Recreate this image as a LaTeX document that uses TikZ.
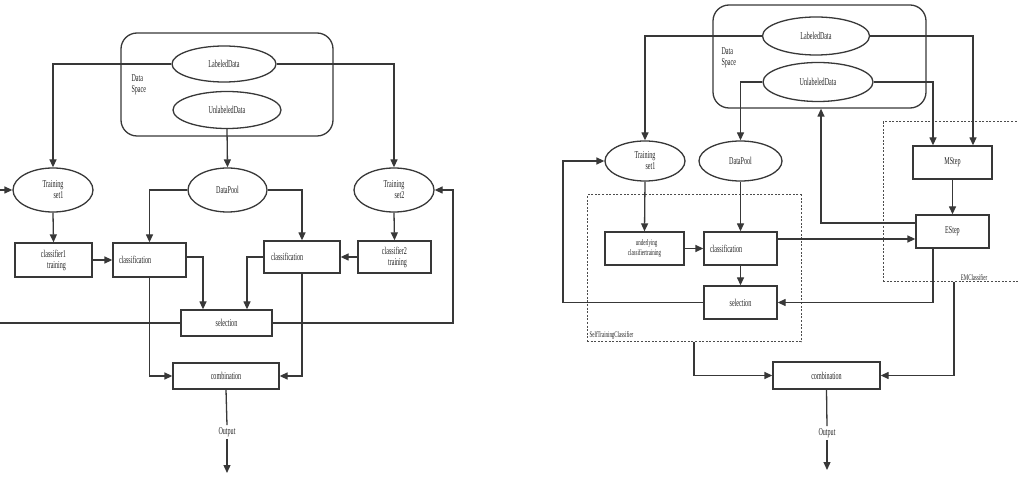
\documentclass[tikz,border=0pt]{standalone}
\usepackage{fontspec}
\setmainfont{Liberation Serif}[FakeStretch=0.58]
\usetikzlibrary{shapes.geometric, arrows.meta}

\tikzset{
  line/.style={draw=black!78, line width=1.3pt},
  arr/.style={line, -{Triangle[length=8pt,width=7pt]}},
  txt/.style={font=\fontsize{10.5}{11}\selectfont, text=black!85},
  small/.style={font=\fontsize{8.5}{9.5}\selectfont, text=black!85},
  oval/.style={ellipse, line, txt, inner sep=0pt, align=center},
  proc/.style={rectangle, line, txt, inner sep=0pt, align=center},
  procl/.style={rectangle, line, txt, inner xsep=6pt, inner ysep=0pt, align=left},
  space/.style={rectangle, line, rounded corners=16pt},
  group/.style={rectangle, draw=black!70, line width=1pt, dash pattern=on 2pt off 1.6pt}
}

\begin{document}
\begin{tikzpicture}[x=1pt, y=-1pt]
  \clip (0,0) rectangle (1018,486);
  \fill[white] (0,0) rectangle (1018,486);

  % ---------- co-training (left) ----------
  \node (space1) [space, minimum width=212pt, minimum height=103pt] at (227,84.5) {};
  \node (dsp1) [txt, anchor=west, align=left] at (128,85) {Data\\Space};
  \node (lab1) [oval, minimum width=104pt, minimum height=36pt] at (224,64) {LabeledData};
  \node (unl1) [oval, minimum width=108pt, minimum height=37pt] at (227,110) {UnlabeledData};

  \node (ts1a)  [oval, minimum width=80pt, minimum height=44pt, align=right] at (53,190) {Training\\set1};
  \node (pool1) [oval, minimum width=79pt, minimum height=44pt] at (227.5,190) {DataPool};
  \node (ts2a)  [oval, minimum width=80pt, minimum height=44pt, align=right] at (394,190) {Training\\set2};

  \node (ctr1)  [proc, minimum width=77pt, minimum height=34pt, align=right] at (53.5,260) {classifier1\\training};
  \node (cls1a) [procl, text width=61pt, minimum height=34pt] at (149.5,260) {classification};
  \node (cls2a) [procl, text width=62pt, minimum height=32pt, inner xsep=7pt] at (302,257) {classification};
  \node (ctr2)  [proc, minimum width=73pt, minimum height=32pt, align=right] at (394.5,257) {classifier2\\training};

  \node (sel1)  [proc, minimum width=91pt, minimum height=26pt] at (226.5,323) {selection};
  \node (comb1) [proc, minimum width=106pt, minimum height=26pt] at (226,376) {combination};
  \node (out1)  [txt, fill=white, inner sep=2pt] at (227,432) {Output};

  \coordinate (inL) at (0,190);
  \coordinate (outL) at (0,323);
  \coordinate (bendR) at (453,190);
  \coordinate (end1) at (227,473);

  \draw[arr] (lab1.west) -| (ts1a.north);
  \draw[arr] (lab1.east) -| (ts2a.north);
  \draw[arr] (unl1.south) -- (pool1.north);
  \draw[arr] (pool1.west) -| (cls1a.north);
  \draw[arr] (pool1.east) -| (cls2a.north);
  \draw[arr] (ts1a.south) -- (ctr1.north);
  \draw[arr] (ts2a.south) -- (ctr2.north);
  \draw[arr] (ctr1.east) -- (cls1a.west);
  \draw[arr] (ctr2.west) -- (cls2a.east);
  \draw[arr] ([yshift=3pt]cls1a.east) -| ([xshift=-23.5pt]sel1.north);
  \draw[arr] (cls2a.west) -| ([xshift=20.5pt]sel1.north);
  \draw[arr] (cls1a.south) |- (comb1.west);
  \draw[arr] (cls2a.south) |- (comb1.east);
  \draw[line] (sel1.west) -- (outL);
  \draw[arr] (inL) -- (ts1a.west);
  \draw[arr] (sel1.east) -| (bendR) -- (ts2a.east);
  \draw[line] (comb1.south) -- (out1.north);
  \draw[arr] (out1.south) -- (end1);

  % ---------- self-training + EM (right) ----------
  \node (stc) [group, minimum width=214pt, minimum height=147pt] at (694,268.5) {};
  \node (stl) [small, anchor=south west, inner sep=1pt] at ([xshift=2pt,yshift=2pt]stc.south west) {SelfTrainingClassifier};
  \node (emc) [group, minimum width=147pt, minimum height=160pt] at (956.5,202) {};
  \node (eml) [small, anchor=south, inner sep=1pt] at (974,282) {EMClassifier};

  \node (space2) [space, minimum width=213pt, minimum height=103pt] at (819.5,56.5) {};
  \node (dsp2) [txt, anchor=west, align=left] at (718,58) {Data\\Space};
  \node (lab2) [oval, minimum width=107pt, minimum height=38pt] at (816,36) {LabeledData};
  \node (unl2) [oval, minimum width=110pt, minimum height=39pt] at (818,82) {UnlabeledData};

  \node (ts1b)  [oval, minimum width=80pt, minimum height=40pt, align=right] at (645,161) {Training\\set1};
  \node (pool2) [oval, minimum width=83pt, minimum height=40pt] at (740.5,161) {DataPool};
  \node (under) [proc, small, minimum width=79pt, minimum height=33pt, align=left] at (644.5,248.5) {\hspace{8pt}underlying\\classifiertraining};
  \node (cls1b) [procl, text width=61pt, minimum height=33pt] at (740.5,248.5) {classification};
  \node (sel2)  [proc, minimum width=73pt, minimum height=33pt] at (740.5,302.5) {selection};
  \node (mstep) [proc, minimum width=79pt, minimum height=33pt] at (952.5,162.5) {MStep};
  \node (estep) [proc, minimum width=73pt, minimum height=33pt] at (952.5,231.5) {EStep};
  \node (comb2) [proc, minimum width=107pt, minimum height=27pt] at (826.5,375.5) {combination};
  \node (out2)  [txt, fill=white, inner sep=2pt] at (827,433) {Output};

  \coordinate (loopL) at (563,161);
  \coordinate (c2e) at ([yshift=9.5pt]cls1b.east);
  \coordinate (end2) at (827,470);

  \draw[arr] (lab2.west) -| (ts1b.north);
  \draw[arr] (unl2.west) -| (pool2.north);
  \draw[arr] (lab2.east) -| ([xshift=20.5pt]mstep.north);
  \draw[arr] (unl2.east) -| ([xshift=-19.5pt]mstep.north);
  \draw[arr] (ts1b.south) -- (under.north);
  \draw[arr] (pool2.south) -- (cls1b.north);
  \draw[arr] (under.east) -- (cls1b.west);
  \draw[arr] (cls1b.south) -- (sel2.north);
  \draw[arr] (sel2.west) -| (loopL) -- (ts1b.west);
  \draw[arr] (c2e) -- (c2e -| estep.west);
  \draw[arr] (mstep.south) -- (estep.north);
  \draw[arr] ([yshift=8.5pt]estep.west) -| ([xshift=1.5pt]space2.south);
  \draw[arr] ([xshift=-19.5pt]estep.south) |- (sel2.east);
  \draw[arr] ([xshift=-2.5pt]emc.south) |- (comb2.east);
  \draw[arr] (stc.south) |- (comb2.west);
  \draw[line] (comb2.south) -- (out2.north);
  \draw[arr] (out2.south) -- (end2);
\end{tikzpicture}
\end{document}
